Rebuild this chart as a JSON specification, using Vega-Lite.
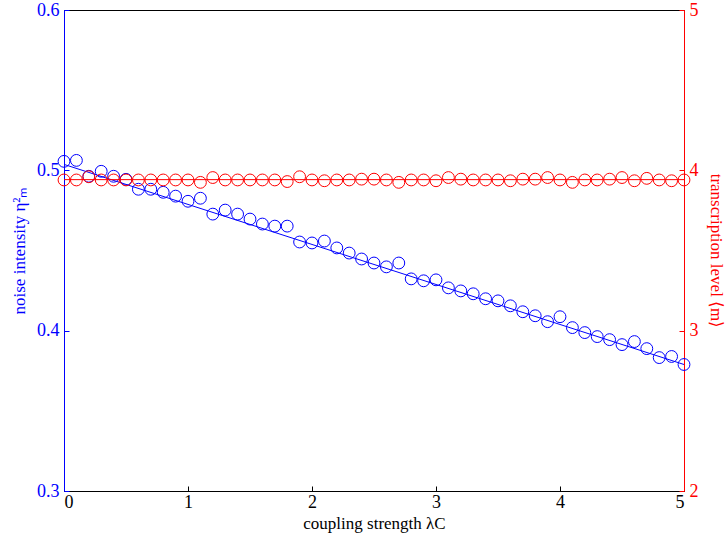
{
  "$schema": "https://vega.github.io/schema/vega-lite/v6.json",
  "width": 620,
  "height": 481,
  "autosize": {"type": "none"},
  "padding": {"left": 64, "top": 10, "right": 43, "bottom": 53},
  "background": "white",
  "config": {
    "view": {"stroke": "black", "strokeWidth": 1},
    "font": "Liberation Serif, Times New Roman, serif",
    "axis": {"grid": false, "labelFont": "Liberation Serif, Times New Roman, serif", "titleFont": "Liberation Serif, Times New Roman, serif", "labelFontSize": 18, "titleFontSize": 17, "titleFontWeight": "normal", "tickSize": -5, "labelPadding": 10, "domainWidth": 1}
  },
  "datasets": {
    "blue": [
      {"x": 0.0, "v": 0.5056}, {"x": 0.1, "v": 0.5062}, {"x": 0.2, "v": 0.4963}, {"x": 0.3, "v": 0.4994},
      {"x": 0.4, "v": 0.4963}, {"x": 0.5, "v": 0.4944}, {"x": 0.6, "v": 0.4882}, {"x": 0.7, "v": 0.4882},
      {"x": 0.8, "v": 0.4863}, {"x": 0.9, "v": 0.4839}, {"x": 1.0, "v": 0.4807}, {"x": 1.1, "v": 0.4826},
      {"x": 1.2, "v": 0.4727}, {"x": 1.3, "v": 0.4752}, {"x": 1.4, "v": 0.4727}, {"x": 1.5, "v": 0.4696},
      {"x": 1.6, "v": 0.4665}, {"x": 1.7, "v": 0.4652}, {"x": 1.8, "v": 0.4652}, {"x": 1.9, "v": 0.4553},
      {"x": 2.0, "v": 0.4547}, {"x": 2.1, "v": 0.4559}, {"x": 2.2, "v": 0.4516}, {"x": 2.3, "v": 0.4484},
      {"x": 2.4, "v": 0.4447}, {"x": 2.5, "v": 0.4422}, {"x": 2.6, "v": 0.4398}, {"x": 2.7, "v": 0.4422},
      {"x": 2.8, "v": 0.4323}, {"x": 2.9, "v": 0.4311}, {"x": 3.0, "v": 0.4317}, {"x": 3.1, "v": 0.4267},
      {"x": 3.2, "v": 0.4248}, {"x": 3.3, "v": 0.4230}, {"x": 3.4, "v": 0.4199}, {"x": 3.5, "v": 0.4186},
      {"x": 3.6, "v": 0.4155}, {"x": 3.7, "v": 0.4118}, {"x": 3.8, "v": 0.4093}, {"x": 3.9, "v": 0.4056},
      {"x": 4.0, "v": 0.4087}, {"x": 4.1, "v": 0.4019}, {"x": 4.2, "v": 0.3988}, {"x": 4.3, "v": 0.3963},
      {"x": 4.4, "v": 0.3944}, {"x": 4.5, "v": 0.3913}, {"x": 4.6, "v": 0.3932}, {"x": 4.7, "v": 0.3888},
      {"x": 4.8, "v": 0.3832}, {"x": 4.9, "v": 0.3839}, {"x": 5.0, "v": 0.3789}
    ],
    "bluefit": [{"x": 0, "v": 0.5037}, {"x": 5, "v": 0.3789}],
    "red": [
      {"x": 0.0, "m": 3.94}, {"x": 0.1, "m": 3.94}, {"x": 0.2, "m": 3.96}, {"x": 0.3, "m": 3.94},
      {"x": 0.4, "m": 3.94}, {"x": 0.5, "m": 3.94}, {"x": 0.6, "m": 3.94}, {"x": 0.7, "m": 3.94},
      {"x": 0.8, "m": 3.94}, {"x": 0.9, "m": 3.94}, {"x": 1.0, "m": 3.94}, {"x": 1.1, "m": 3.925},
      {"x": 1.2, "m": 3.955}, {"x": 1.3, "m": 3.94}, {"x": 1.4, "m": 3.94}, {"x": 1.5, "m": 3.94},
      {"x": 1.6, "m": 3.94}, {"x": 1.7, "m": 3.94}, {"x": 1.8, "m": 3.93}, {"x": 1.9, "m": 3.96},
      {"x": 2.0, "m": 3.94}, {"x": 2.1, "m": 3.935}, {"x": 2.2, "m": 3.94}, {"x": 2.3, "m": 3.94},
      {"x": 2.4, "m": 3.945}, {"x": 2.5, "m": 3.945}, {"x": 2.6, "m": 3.94}, {"x": 2.7, "m": 3.925},
      {"x": 2.8, "m": 3.94}, {"x": 2.9, "m": 3.94}, {"x": 3.0, "m": 3.935}, {"x": 3.1, "m": 3.955},
      {"x": 3.2, "m": 3.945}, {"x": 3.3, "m": 3.94}, {"x": 3.4, "m": 3.94}, {"x": 3.5, "m": 3.94},
      {"x": 3.6, "m": 3.935}, {"x": 3.7, "m": 3.945}, {"x": 3.8, "m": 3.945}, {"x": 3.9, "m": 3.955},
      {"x": 4.0, "m": 3.94}, {"x": 4.1, "m": 3.925}, {"x": 4.2, "m": 3.94}, {"x": 4.3, "m": 3.94},
      {"x": 4.4, "m": 3.945}, {"x": 4.5, "m": 3.955}, {"x": 4.6, "m": 3.935}, {"x": 4.7, "m": 3.95},
      {"x": 4.8, "m": 3.94}, {"x": 4.9, "m": 3.935}, {"x": 5.0, "m": 3.94}
    ],
    "redfit": [{"x": 0, "m": 3.942}, {"x": 5, "m": 3.942}]
  },
  "layer": [
    {
      "layer": [
        {
          "data": {"name": "bluefit"},
          "mark": {"type": "line", "color": "#0000ff", "strokeWidth": 1},
          "encoding": {
            "x": {"field": "x", "type": "quantitative", "scale": {"domain": [0, 5], "nice": false},
              "axis": {"title": "coupling strength λC", "values": [0, 1, 2, 3, 4, 5], "format": "d", "domainColor": "black", "tickColor": "black", "labelColor": "black", "titleColor": "black", "labelPadding": 7, "titlePadding": 4}},
            "y": {"field": "v", "type": "quantitative", "scale": {"domain": [0.3, 0.6], "nice": false, "zero": false},
              "axis": {"orient": "left", "title": "noise intensity η²ₘ", "values": [0.3, 0.4, 0.5, 0.6], "format": ".1f", "domainColor": "#0000ff", "tickColor": "#0000ff", "labelColor": "#0000ff", "titleColor": "#0000ff", "titlePadding": 8}}
          }
        },
        {
          "data": {"name": "blue"},
          "mark": {"type": "point", "shape": "circle", "filled": false, "color": "#0000ff", "size": 140, "strokeWidth": 1, "opacity": 1},
          "encoding": {
            "x": {"field": "x", "type": "quantitative"},
            "y": {"field": "v", "type": "quantitative"}
          }
        }
      ]
    },
    {
      "layer": [
        {
          "data": {"name": "redfit"},
          "mark": {"type": "line", "color": "#ff0000", "strokeWidth": 1},
          "encoding": {
            "x": {"field": "x", "type": "quantitative"},
            "y": {"field": "m", "type": "quantitative", "scale": {"domain": [2, 5], "nice": false, "zero": false},
              "axis": {"orient": "right", "title": "transcription level ⟨m⟩", "values": [2, 3, 4, 5], "format": "d", "domainColor": "#ff0000", "tickColor": "#ff0000", "labelColor": "#ff0000", "titleColor": "#ff0000", "titlePadding": 8}}
          }
        },
        {
          "data": {"name": "red"},
          "mark": {"type": "point", "shape": "circle", "filled": false, "color": "#ff0000", "size": 140, "strokeWidth": 1, "opacity": 1},
          "encoding": {
            "x": {"field": "x", "type": "quantitative"},
            "y": {"field": "m", "type": "quantitative"}
          }
        }
      ]
    }
  ],
  "resolve": {"scale": {"y": "independent"}}
}
